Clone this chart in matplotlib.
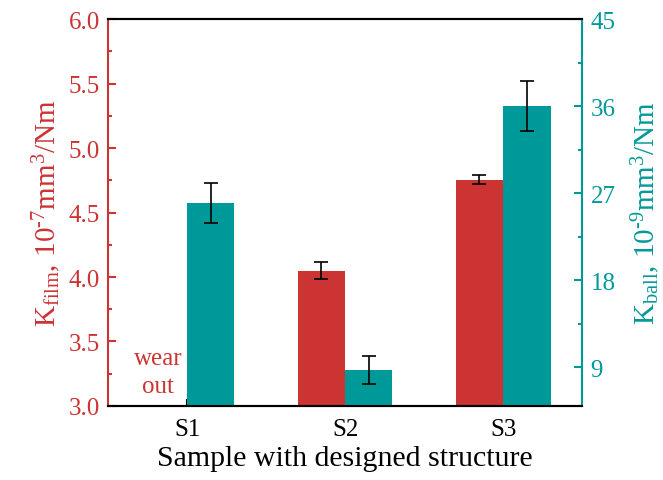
import numpy as np
import matplotlib
matplotlib.use("Agg")
import matplotlib.pyplot as plt

plt.rcParams["font.family"] = "Liberation Serif"
plt.rcParams["mathtext.fontset"] = "custom"
plt.rcParams["mathtext.rm"] = "Liberation Serif"
plt.rcParams["mathtext.it"] = "Liberation Serif:italic"

samples = ["S1", "S2", "S3"]
k_film = [np.nan, 4.05, 4.755]
k_film_err = [0, 0.065, 0.035]
k_ball = [26.0, 8.7, 36.0]
k_ball_err = [2.1, 1.45, 2.6]

red = "#CC3333"
teal = "#009999"

fig = plt.figure(figsize=(6.63, 4.81), dpi=100)
ax = fig.add_axes([0.163, 0.154, 0.715, 0.804])
ax2 = ax.twinx()

x = np.arange(1, 4)
w = 0.3
ax.bar(x - w / 2, k_film, width=w, color=red, zorder=2)
ax.errorbar(x[1:] - w / 2, k_film[1:], yerr=k_film_err[1:], fmt="none",
            ecolor="black", elinewidth=1.2, capsize=5, capthick=1.2, zorder=3)
ax2.bar(x + w / 2, k_ball, width=w, color=teal, zorder=2)
ax2.errorbar(x + w / 2, k_ball, yerr=k_ball_err, fmt="none",
             ecolor="black", elinewidth=1.2, capsize=5, capthick=1.2, zorder=3)

ax.set_xlim(0.5, 3.5)
ax.set_ylim(3.0, 6.0)
ax2.set_ylim(5, 45)
ax.set_xticks(x)
ax.set_xticklabels(samples, fontsize=18)
ax.set_yticks(np.arange(3.0, 6.01, 0.5))
ax.set_yticks(np.arange(3.25, 6.0, 0.5), minor=True)
ax2.set_yticks([9, 18, 27, 36, 45])
ax2.set_yticks([13.5, 22.5, 31.5, 40.5], minor=True)
ax.set_yticklabels([f"{v:.1f}" for v in np.arange(3.0, 6.01, 0.5)])

ax.tick_params(axis="y", which="major", direction="in", length=6, width=1.5,
               colors=red, labelsize=18, pad=6)
ax.tick_params(axis="y", which="minor", direction="in", length=3, width=1.5, colors=red)
ax.tick_params(axis="x", direction="in", length=5, width=1.5, labelsize=18, pad=9)
ax2.tick_params(axis="y", which="major", direction="in", length=6, width=1.5,
                colors=teal, labelsize=18, pad=6)
ax2.tick_params(axis="y", which="minor", direction="in", length=3, width=1.5, colors=teal)

for a in (ax, ax2):
    for s in a.spines.values():
        s.set_linewidth(1.5)
ax.spines["left"].set_color(red)
ax2.spines["left"].set_visible(False)
ax2.spines["right"].set_color(teal)
ax.spines["right"].set_visible(False)

ax.set_ylabel("K$_{\\rm film}$, 10$^{\u20107}$mm$^3$/Nm", color=red, fontsize=21, labelpad=4)
ax2.set_ylabel("K$_{\\rm ball}$, 10$^{\u20109}$mm$^3$/Nm", color=teal, fontsize=21, labelpad=10)
ax.set_xlabel("Sample with designed structure", fontsize=21.5, labelpad=3)

ax.text(0.815, 3.26, "wear\nout", color=red, fontsize=18,
        ha="center", va="center", linespacing=1.35)

fig.savefig("out.png", dpi=100)
